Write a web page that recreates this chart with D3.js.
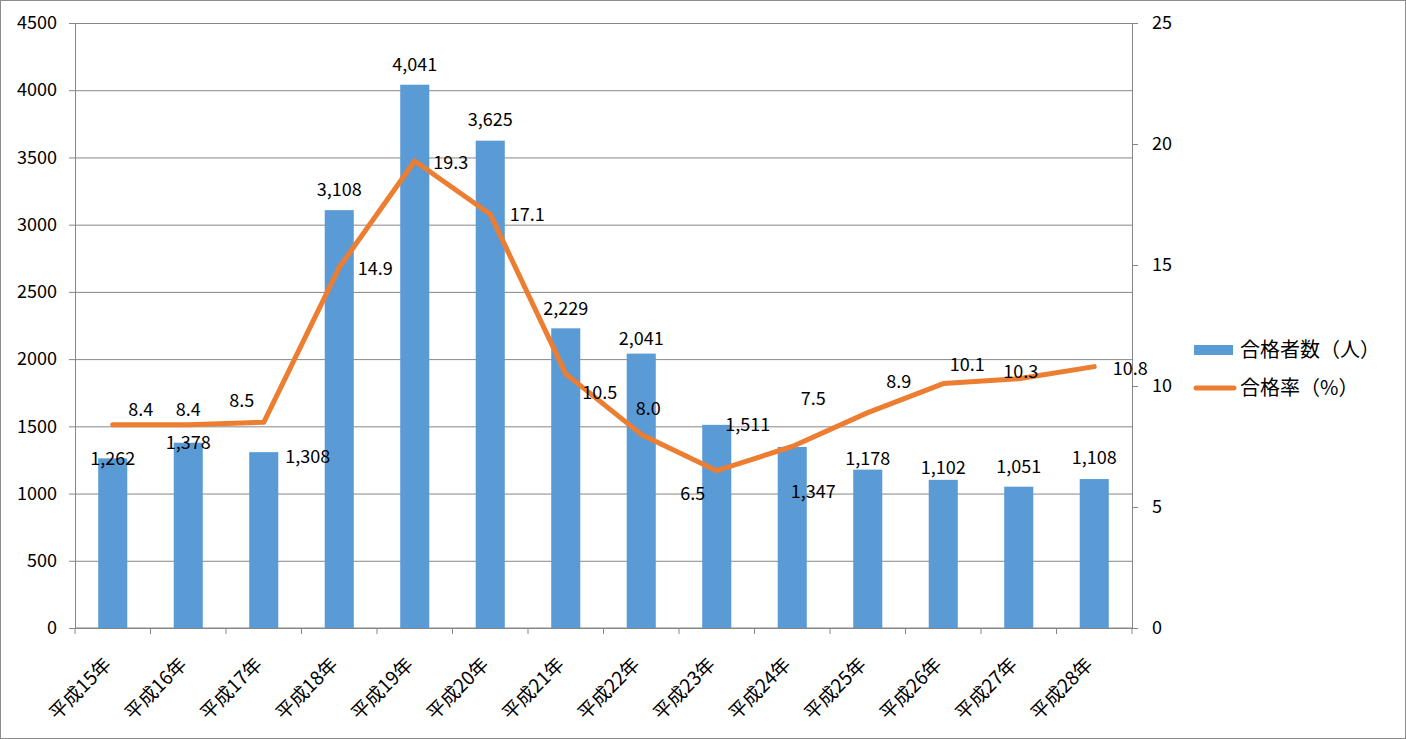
<!DOCTYPE html>
<html>
<head>
<meta charset="utf-8">
<script src="https://cdn.jsdelivr.net/npm/d3@7"></script>
<style>
  body { margin: 0; background: #fff; }
  text { font-family: "Noto Sans CJK JP", "Noto Sans", sans-serif; fill: #000; }
</style>
</head>
<body>
<div class="chart"></div>
<script>
// data
const years = ["平成15年", "平成16年", "平成17年", "平成18年", "平成19年", "平成20年", "平成21年",
  "平成22年", "平成23年", "平成24年", "平成25年", "平成26年", "平成27年", "平成28年"]
const passers = [1262, 1378, 1308, 3108, 4041, 3625, 2229, 2041, 1511, 1347, 1178, 1102, 1051, 1108]
const passRate = [8.4, 8.4, 8.5, 14.9, 19.3, 17.1, 10.5, 8.0, 6.5, 7.5, 8.9, 10.1, 10.3, 10.8]
const leftTicks = [0, 500, 1000, 1500, 2000, 2500, 3000, 3500, 4000, 4500]
const rightTicks = [0, 5, 10, 15, 20, 25]
const seriesNames = ["合格者数（人）", "合格率（%）"]

// label placement (layout only), offsets from the mark in px
const barLabelOff = [[0, 0], [0, 0], [44, 5], [0, -20], [0, -20], [0, -21], [0, -20],
  [0, -15], [31, 0], [21, 45], [0, -11], [0, -12], [0, -20], [0, -21]]
const rateLabelOff = [[28, -15], [0, -15], [-22, -22], [36, 1], [36, 2], [37, 1], [34, 19],
  [7, -26], [-24, 23], [21, -48], [31, -31], [24, -19], [2, -7], [36, 2]]

const W = 1406, H = 739
const margin = {left: 75, right: 274, top: 23, bottom: 111}
const width = W - margin.left - margin.right,
      height = H - margin.top - margin.bottom

const blue = "#5B9BD5", orange = "#ED7D31", grid = "#868686"
const numFont = "'Noto Sans', sans-serif"

const svg = d3.select(".chart").append("svg")
  .attr("width", W).attr("height", H)

svg.append("rect")
  .attr("x", 0.5).attr("y", 0.5).attr("width", W - 1).attr("height", H - 1)
  .attr("fill", "none").attr("stroke", "#8c8c8c")

const g = svg.append("g").attr("transform", `translate(${margin.left},${margin.top})`)

const x = d3.scaleBand().domain(years).range([0, width])
const yL = d3.scaleLinear().domain([0, 4500]).range([height, 0])
const yR = d3.scaleLinear().domain([0, 25]).range([height, 0])

// gridlines + left axis
const leftAxis = g.append("g")
  .call(d3.axisLeft(yL).tickValues(leftTicks).tickSize(6).tickPadding(12).tickFormat(d3.format("d")))
leftAxis.select(".domain").attr("stroke", grid)
leftAxis.selectAll(".tick line").attr("stroke", grid)
leftAxis.selectAll(".tick line").clone().attr("x1", 0).attr("x2", width)
leftAxis.selectAll(".tick text").style("font-size", "18px").attr("fill", "#000")
  .attr("font-family", numFont)

// right axis
const rightAxis = g.append("g").attr("transform", `translate(${width},0)`)
  .call(d3.axisRight(yR).tickValues(rightTicks).tickSize(6).tickPadding(14))
rightAxis.select(".domain").attr("stroke", grid)
rightAxis.selectAll(".tick line").attr("stroke", grid)
rightAxis.selectAll(".tick text").style("font-size", "18px").attr("fill", "#000")
  .attr("font-family", numFont)

// bottom axis: ticks at band edges
const xAxis = g.append("g").attr("transform", `translate(0,${height})`)
xAxis.append("line").attr("x1", 0).attr("x2", width).attr("stroke", grid)
xAxis.selectAll(".edge").data(d3.range(years.length + 1)).join("line")
  .attr("class", "edge")
  .attr("x1", i => i * x.step()).attr("x2", i => i * x.step())
  .attr("y1", 0).attr("y2", 6).attr("stroke", grid)
xAxis.selectAll(".xl").data(years).join("text")
  .attr("class", "xl")
  .attr("transform", d => `translate(${x(d) + x.bandwidth() / 2 - 5},${33}) rotate(-45)`)
  .attr("text-anchor", "end")
  .attr("dy", "0.35em")
  .style("font-size", "19px")
  .text(d => d)

// bars
const barW = x.bandwidth() * 0.385
g.selectAll(".bar").data(passers).join("rect")
  .attr("class", "bar")
  .attr("x", (d, i) => x(years[i]) + x.bandwidth() / 2 - barW / 2)
  .attr("y", d => yL(d))
  .attr("width", barW)
  .attr("height", d => height - yL(d))
  .attr("fill", blue)

// line
const line = d3.line()
  .x((d, i) => x(years[i]) + x.bandwidth() / 2)
  .y(d => yR(d))
g.append("path").datum(passRate)
  .attr("d", line)
  .attr("fill", "none").attr("stroke", orange)
  .attr("stroke-width", 5).attr("stroke-linejoin", "round").attr("stroke-linecap", "round")

// bar labels
g.selectAll(".bl").data(passers).join("text")
  .attr("class", "bl")
  .attr("x", (d, i) => x(years[i]) + x.bandwidth() / 2 + barLabelOff[i][0])
  .attr("y", (d, i) => yL(d) + barLabelOff[i][1])
  .attr("text-anchor", "middle").attr("dy", "0.35em")
  .style("font-size", "18px").attr("font-family", numFont)
  .text(d => d3.format(",")(d))

// rate labels
g.selectAll(".rl").data(passRate).join("text")
  .attr("class", "rl")
  .attr("x", (d, i) => x(years[i]) + x.bandwidth() / 2 + rateLabelOff[i][0])
  .attr("y", (d, i) => yR(d) + rateLabelOff[i][1])
  .attr("text-anchor", "middle").attr("dy", "0.35em")
  .style("font-size", "18px").attr("font-family", numFont)
  .text(d => d.toFixed(1))

// legend
const legend = svg.append("g").attr("transform", "translate(1194,350)")
legend.append("rect").attr("x", 0).attr("y", -5).attr("width", 39).attr("height", 10).attr("fill", blue)
legend.append("line").attr("x1", 2).attr("x2", 40).attr("y1", 38).attr("y2", 38)
  .attr("stroke", orange).attr("stroke-width", 5).attr("stroke-linecap", "round")
legend.selectAll(".lt").data(seriesNames).join("text")
  .attr("class", "lt")
  .attr("x", 46).attr("y", (d, i) => i * 38).attr("dy", "0.35em")
  .style("font-size", "20px")
  .text(d => d)
</script>
</body>
</html>
